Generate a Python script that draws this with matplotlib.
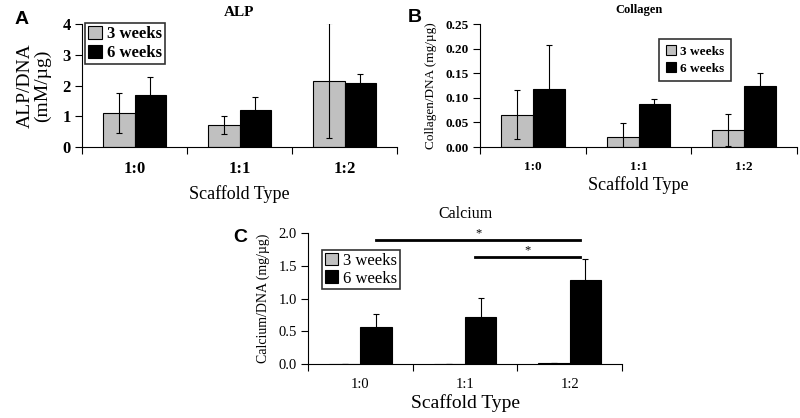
import numpy as np
import matplotlib
matplotlib.use('Agg')
import matplotlib.pyplot as plt

# scaffold groups
groups = ['1:0', '1:1', '1:2']
series = ['3 weeks', '6 weeks']

alp_3wk = [1.10, 0.72, 2.15]
alp_3wk_err = [0.65, 0.30, 1.87]
alp_6wk = [1.70, 1.20, 2.08]
alp_6wk_err = [0.58, 0.42, 0.30]

col_3wk = [0.066, 0.020, 0.035]
col_3wk_err = [0.049, 0.028, 0.032]
col_6wk = [0.117, 0.087, 0.124]
col_6wk_err = [0.090, 0.010, 0.026]

ca_3wk = [0.0, 0.0, 0.01]
ca_3wk_err = [0.0, 0.0, 0.0]
ca_6wk = [0.57, 0.72, 1.28]
ca_6wk_err = [0.20, 0.29, 0.33]

# significance brackets for calcium (group i vs group j, height)
sig_pairs = [(0, 2), (1, 2)]
sig_heights = [1.89, 1.63]

serif = 'Liberation Serif'
gray = '#c0c0c0'

fig = plt.figure(figsize=(8, 4.18), dpi=100)


def panel(rect, v3, e3, v6, e6, ylim, yticks, fmt, tick_fs, tick_bold, xlab_fs, xlab_pad):
	ax = fig.add_axes(rect)
	x = np.arange(len(groups))
	w = 0.3
	ekw = dict(elinewidth=0.8, capsize=2.5, capthick=0.8, ecolor='black')
	ax.bar(x - w/2, v3, w, yerr=e3, color=gray, edgecolor='black', linewidth=0.8,
	       error_kw=ekw, label=series[0])
	ax.bar(x + w/2, v6, w, yerr=e6, color='black', edgecolor='black', linewidth=0.8,
	       error_kw=ekw, label=series[1])
	ax.set_xlim(-0.5, len(groups) - 0.5)
	ax.set_ylim(*ylim)
	ax.set_yticks(yticks)
	ax.set_yticklabels([fmt % t for t in yticks], family=serif, fontsize=tick_fs,
	                   fontweight='bold' if tick_bold else 'normal')
	ax.set_xticks(x)
	ax.set_xticklabels(groups, family=serif, fontsize=tick_fs,
	                   fontweight='bold' if tick_bold else 'normal')
	ax.set_xticks(np.arange(-0.5, len(groups), 1.0), minor=True)
	ax.tick_params(axis='x', which='major', length=0, pad=10)
	ax.tick_params(axis='x', which='minor', length=5, direction='out', width=0.8)
	ax.tick_params(axis='y', length=5, width=0.8, direction='out', pad=3)
	for s in ['top', 'right']:
		ax.spines[s].set_visible(False)
	ax.spines['left'].set_linewidth(0.8)
	ax.spines['bottom'].set_linewidth(0.8)
	ax.set_xlabel('Scaffold Type', family=serif, fontsize=xlab_fs, labelpad=xlab_pad)
	return ax


# A - ALP
axA = panel([82/800, 1 - 147/418, 315/800, 123/418], alp_3wk, alp_3wk_err, alp_6wk, alp_6wk_err,
            (0, 4), [0, 1, 2, 3, 4], '%d', 12, True, 13, 6)
axA.set_ylabel('ALP/DNA\n(mM/µg)', family=serif, fontsize=14, linespacing=1.0, labelpad=8)
axA.set_title('ALP', family=serif, fontsize=11, fontweight='bold', pad=6)
axA.legend(loc='upper left', bbox_to_anchor=(0.01, 1.01), prop=dict(family=serif, size=12, weight='bold'),
           frameon=True, fancybox=False, edgecolor='black', handlelength=0.8, handleheight=0.8,
           handletextpad=0.3, borderpad=0.2, labelspacing=0.15, borderaxespad=0.0).get_frame().set_linewidth(1.2)
fig.text(15/800, 1 - 20/418, 'A', family='Liberation Sans', fontsize=14, fontweight='bold', va='center')

# B - Collagen
axB = panel([480/800, 1 - 147/418, 317/800, 123/418], col_3wk, col_3wk_err, col_6wk, col_6wk_err,
            (0, 0.25), [0, 0.05, 0.10, 0.15, 0.20, 0.25], '%.2f', 9.5, True, 13, 2)
axB.set_ylabel('Collagen/DNA (mg/µg)', family=serif, fontsize=9.5, labelpad=6)
axB.set_title('Collagen', family=serif, fontsize=9, fontweight='bold', pad=8)
axB.legend(loc='upper left', bbox_to_anchor=(0.565, 0.88), prop=dict(family=serif, size=9.5, weight='bold'),
           frameon=True, fancybox=False, edgecolor='black', handlelength=0.8, handleheight=0.8,
           handletextpad=0.3, borderpad=0.5, labelspacing=0.3, borderaxespad=0.0).get_frame().set_linewidth(1.2)
fig.text(408/800, 1 - 17/418, 'B', family='Liberation Sans', fontsize=14, fontweight='bold', va='center')

# C - Calcium
axC = panel([308/800, 1 - 364/418, 314/800, 131/418], ca_3wk, ca_3wk_err, ca_6wk, ca_6wk_err,
            (0, 2.0), [0, 0.5, 1.0, 1.5, 2.0], '%.1f', 10.5, False, 14, 2)
axC.set_ylabel('Calcium/DNA (mg/µg)', family=serif, fontsize=10, labelpad=6)
axC.set_title('Calcium', family=serif, fontsize=11.5, pad=11)
axC.legend(loc='upper left', bbox_to_anchor=(0.045, 0.87), prop=dict(family=serif, size=12),
           frameon=True, fancybox=False, edgecolor='black', handlelength=0.8, handleheight=0.8,
           handletextpad=0.3, borderpad=0.15, labelspacing=0.1, borderaxespad=0.0).get_frame().set_linewidth(1.2)
for (i, j), h in zip(sig_pairs, sig_heights):
	x0, x1 = i + 0.15 if i == 0 else i + 0.1, j + 0.1
	axC.plot([x0, x1], [h, h], color='black', linewidth=2, clip_on=False)
	axC.text((x0 + x1) / 2, h + 0.02, '*', ha='center', va='bottom', family=serif, fontsize=9, clip_on=False)
fig.text(233/800, 1 - 238/418, 'C', family='Liberation Sans', fontsize=14, fontweight='bold', va='center')

fig.savefig('out.png', dpi=100)
